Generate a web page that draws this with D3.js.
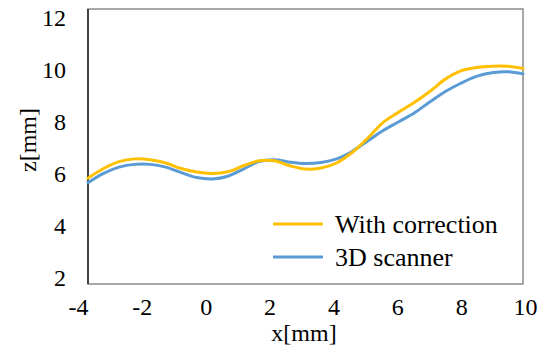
<!DOCTYPE html>
<html>
<head>
<meta charset="utf-8">
<script src="https://cdn.jsdelivr.net/npm/d3@7/dist/d3.min.js"></script>
<style>
  body { margin: 0; background: #fff; }
  svg text { font-family: "Liberation Serif", "DejaVu Serif", "Times New Roman", Times, serif; fill: #000; }
</style>
</head>
<body>
<div id="chart"></div>
<script>
// x positions [mm]
var xs = [-4, -3.5, -3, -2.5, -2, -1.5, -1, -0.5, 0, 0.5, 1, 1.5, 2, 2.5, 3, 3.5,
	4, 4.5, 5, 5.5, 6, 6.5, 7, 7.5, 8, 8.5, 9, 9.5, 10];
// z [mm], "With correction"
var withCorrection = [5.85, 6.2, 6.45, 6.55, 6.52, 6.4, 6.2, 6.07, 6.02, 6.08, 6.3, 6.48,
	6.48, 6.3, 6.18, 6.22, 6.4, 6.78, 7.3, 7.88, 8.25, 8.6, 9.0, 9.45, 9.75, 9.87, 9.92, 9.92, 9.84];
// z [mm], "3D scanner"
var scanner = [5.68, 6.02, 6.25, 6.35, 6.35, 6.25, 6.05, 5.87, 5.82, 5.92, 6.18, 6.45,
	6.52, 6.43, 6.38, 6.42, 6.55, 6.82, 7.2, 7.58, 7.9, 8.22, 8.62, 9.0, 9.3, 9.55, 9.68, 9.72, 9.64];
var seriesNames = ["With correction", "3D scanner"];
var xTicks = [-4, -2, 0, 2, 4, 6, 8, 10];
var yTicks = [2, 4, 6, 8, 10, 12];

var serif = '"Liberation Serif", "DejaVu Serif", "Times New Roman", serif';

var width = 548, height = 354,
	plot = {"left": 88, "right": 523, "top": 9, "bottom": 284};

var svg = d3.select("#chart")
	.append("svg")
	.attr("width", width)
	.attr("height", height);

var xScale = d3.scaleLinear().domain([-4, 10]).range([plot.left, plot.right]);
var yScale = d3.scaleLinear().domain([2, 12]).range([plot.bottom, plot.top]);
// tick labels sit a little off the plot edges in the original
var xLabelScale = d3.scaleLinear().domain([-4, 10]).range([78, 525]);
var yLabelScale = d3.scaleLinear().domain([2, 12]).range([277.5, 18]);

// frame
svg.append("rect")
	.attr("x", plot.left)
	.attr("y", plot.top)
	.attr("width", plot.right - plot.left)
	.attr("height", plot.bottom - plot.top)
	.style("fill", "none")
	.style("stroke", "#8c8c8c")
	.style("stroke-width", 1.5);
svg.append("line")
	.attr("x1", plot.left).attr("x2", plot.left)
	.attr("y1", plot.top).attr("y2", plot.bottom)
	.style("stroke", "#222")
	.style("stroke-width", 1.5);

var yAxis = d3.axisLeft(yLabelScale)
	.tickValues(yTicks)
	.tickSize(0)
	.tickPadding(0)
	.tickFormat(function(d) { return String(d); });
svg.append("g")
	.attr("transform", "translate(66,0)")
	.call(yAxis)
	.call(function(g) { g.select(".domain").remove(); })
	.selectAll("text")
	.style("font-size", "24px")
	.style("font-family", serif);

var xAxis = d3.axisBottom(xLabelScale)
	.tickValues(xTicks)
	.tickSize(0)
	.tickPadding(0)
	.tickFormat(function(d) { return String(d); });
svg.append("g")
	.attr("transform", "translate(0,298)")
	.call(xAxis)
	.call(function(g) { g.select(".domain").remove(); })
	.selectAll("text")
	.attr("dy", "0.7em")
	.style("font-size", "24px")
	.style("font-family", serif);

svg.append("text")
	.attr("x", 304)
	.attr("y", 341)
	.style("text-anchor", "middle")
	.style("font-size", "24px")
	.style("font-family", serif)
	.text("x[mm]");

svg.append("text")
	.attr("transform", "translate(36,140) rotate(-90)")
	.style("text-anchor", "middle")
	.style("font-size", "24px")
	.style("font-family", serif)
	.text("z[mm]");

var colors = ["#FFC000", "#5B9BD5"];
var seriesData = [withCorrection, scanner];

var line = d3.line()
	.x(function(d, i) { return xScale(xs[i]); })
	.y(function(d) { return yScale(d); })
	.curve(d3.curveCatmullRom.alpha(0.5));

// draw blue first, yellow above it
svg.selectAll("path.series")
	.data([1, 0])
	.enter()
	.append("path")
	.attr("class", "series")
	.attr("d", function(k) { return line(seriesData[k]); })
	.style("fill", "none")
	.style("stroke", function(k) { return colors[k]; })
	.style("stroke-width", 3)
	.style("stroke-linecap", "round");

// legend
var legend = svg.selectAll("g.legend")
	.data(seriesNames)
	.enter()
	.append("g")
	.attr("class", "legend")
	.attr("transform", function(d, i) { return "translate(273," + (224 + i * 33) + ")"; });
legend.append("line")
	.attr("x1", 0).attr("x2", 50)
	.style("stroke", function(d, i) { return colors[i]; })
	.style("stroke-width", 3);
legend.append("text")
	.attr("x", 62)
	.attr("dy", "0.33em")
	.style("font-size", "26px")
	.style("font-family", serif)
	.text(function(d) { return d; });
</script>
</body>
</html>
